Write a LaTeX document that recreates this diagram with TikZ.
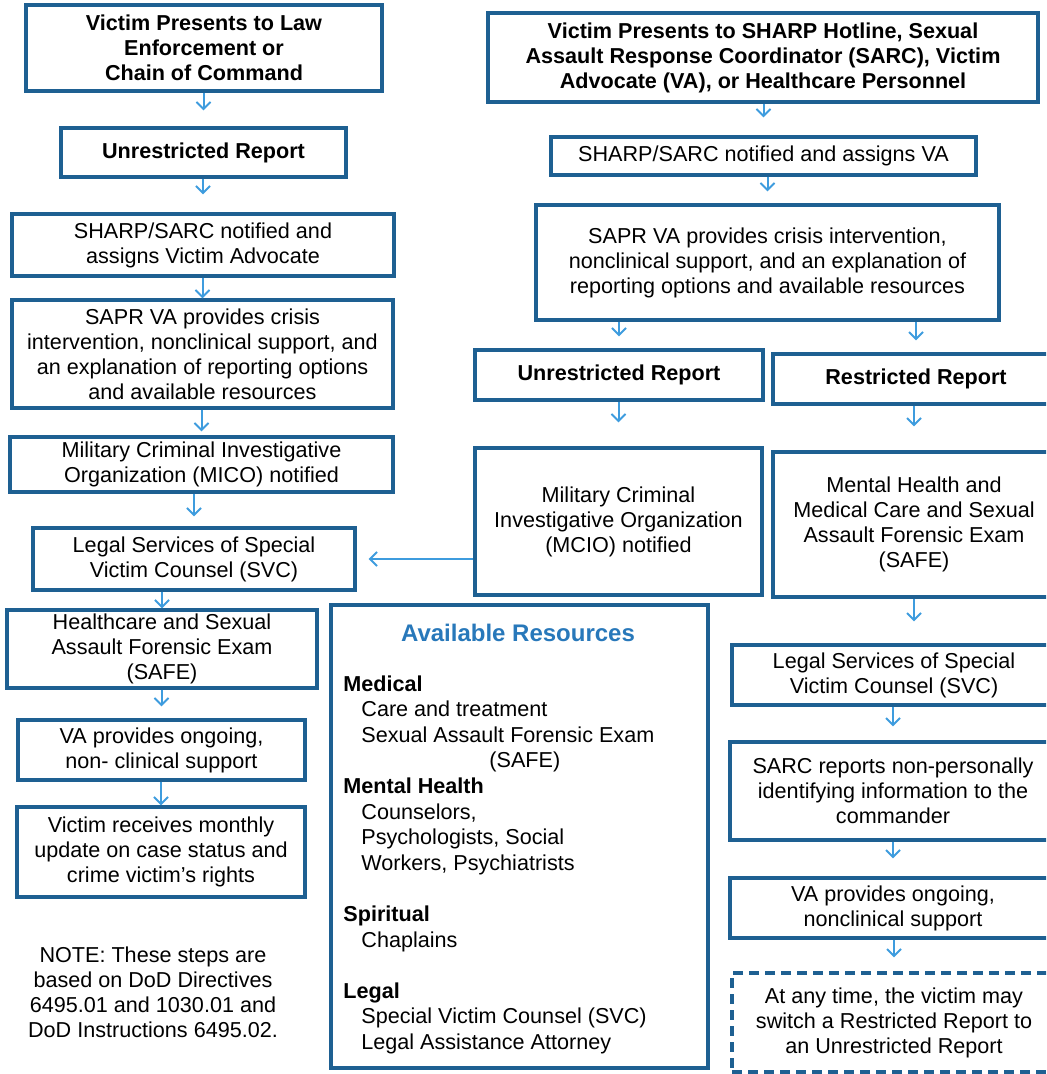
\documentclass[tikz,border=0pt]{standalone}
\usepackage{fontspec}
\setmainfont{Liberation Sans}
\usetikzlibrary{arrows.meta}
\definecolor{boxblue}{RGB}{30,96,146}
\definecolor{arrowblue}{RGB}{62,156,222}
\definecolor{titleblue}{RGB}{40,120,186}

\begin{document}
\begin{tikzpicture}[x=0.5pt, y=-0.5pt, >={Straight Barb[length=3.5pt,width=7pt]},
  box/.style={draw=boxblue, line width=1.6pt, align=center, inner sep=2pt,
    font=\fontsize{10.8}{12.5}\selectfont},
  bbox/.style={box, font=\fontsize{10.8}{12.5}\selectfont\bfseries},
  dim/.style 2 args={minimum width=#1*0.5pt, minimum height=#2*0.5pt},
  arr/.style={->, draw=arrowblue, line width=1pt}]
  \useasboundingbox (0,0) rectangle (1046,1074);
  \clip (0,0) rectangle (1046,1074);

  \node[bbox, dim={356}{86}] (l1) at (204,48) {Victim Presents to Law\\Enforcement or\\Chain of Command};
  \node[bbox, dim={285}{49}] (l2) at (203.5,152.5) {Unrestricted Report};
  \node[box, dim={382}{62}] (l3) at (203,245) {SHARP/SARC notified and\\assigns Victim Advocate};
  \node[box, dim={381}{108}] (l4) at (202.5,354) {SAPR VA provides crisis\\intervention, nonclinical support, and\\an explanation of reporting options\\and available resources};
  \node[box, dim={383}{55}] (l5) at (201.5,464.5) {Military Criminal Investigative\\Organization (MICO) notified};
  \node[box, dim={322}{62}] (l6) at (194,559) {Legal Services of Special\\Victim Counsel (SVC)};
  \node[box, dim={310}{78}] (l7) at (162,649) {Healthcare and Sexual\\Assault Forensic Exam\\(SAFE)};
  \node[box, dim={287}{60}] (l8) at (161.5,750) {VA provides ongoing,\\non- clinical support};
  \node[box, dim={288}{90}] (l9) at (161,852) {Victim receives monthly\\update on case status and\\crime victim's rights};
  \node[align=center, font=\fontsize{10.8}{12.5}\selectfont] (note) at (153,992) {NOTE: These steps are\\based on DoD Directives\\6495.01 and 1030.01 and\\DoD Instructions 6495.02.};

  \node[bbox, dim={550}{89}] (r1) at (763,57.5) {Victim Presents to SHARP Hotline, Sexual\\Assault Response Coordinator (SARC), Victim\\Advocate (VA), or Healthcare Personnel};
  \node[box, dim={425}{38}] (r2) at (763.5,156) {SHARP/SARC notified and assigns VA};
  \node[box, dim={463}{115}] (r3) at (767.5,262.5) {SAPR VA provides crisis intervention,\\nonclinical support, and an explanation of\\reporting options and available resources};
  \node[bbox, dim={288}{50}] (ru) at (619,375) {Unrestricted Report};
  \node[bbox, dim={286}{50}] (rr) at (916,379) {Restricted Report};
  \node[box, dim={287}{147}] (mcio) at (618.5,521.5) {Military Criminal\\Investigative Organization\\(MCIO) notified};
  \node[box, dim={282}{145}] (mh) at (914,524.5) {Mental Health and\\Medical Care and Sexual\\Assault Forensic Exam\\(SAFE)};
  \node[box, dim={324}{60}] (rl) at (894,675) {Legal Services of Special\\Victim Counsel (SVC)};
  \node[box, dim={326}{98}] (rs) at (893,791) {SARC reports non-personally\\identifying information to the\\commander};
  \node[box, dim={326}{60}] (rv) at (893,908) {VA provides ongoing,\\nonclinical support};
  \node[box, dashed, dash pattern=on 5pt off 3pt, dim={324}{99}] (rd) at (894,1022.5) {At any time, the victim may\\switch a Restricted Report to\\an Unrestricted Report};

  \node[box, dim={377}{463}] (res) at (519.5,836.5) {};
  \node[font=\fontsize{12}{14}\selectfont\bfseries, text=titleblue] (restitle) at (518,633) {Available Resources};
  \node[anchor=north west, align=left, inner sep=0pt, font=\fontsize{10.8}{12.8}\selectfont] (resitems) at (343,675) {\textbf{Medical}\\
    \hspace*{9pt}Care and treatment\\
    \hspace*{9pt}Sexual Assault Forensic Exam\\
    \hspace*{73pt}(SAFE)\\
    \textbf{Mental Health}\\
    \hspace*{9pt}Counselors,\\
    \hspace*{9pt}Psychologists, Social\\
    \hspace*{9pt}Workers, Psychiatrists\\[12.8pt]
    \textbf{Spiritual}\\
    \hspace*{9pt}Chaplains\\[12.8pt]
    \textbf{Legal}\\
    \hspace*{9pt}Special Victim Counsel (SVC)\\
    \hspace*{9pt}Legal Assistance Attorney};

  \draw[arr, shorten >=8pt] (l2.north |- l1.south) -- (l2.north);
  \draw[arr, shorten >=9pt] (l3.north |- l2.south) -- (l3.north);
  \draw[arr] (l4.north |- l3.south) -- (l4.north);
  \draw[arr, shorten >=2pt] (l5.north |- l4.south) -- (l5.north);
  \draw[arr, shorten >=5pt] (l6.north |- l5.south) -- (l6.north);
  \draw[arr] (l7.north |- l6.south) -- (l7.north);
  \draw[arr, shorten >=6pt] (l8.north |- l7.south) -- (l8.north);
  \draw[arr] (l9.north |- l8.south) -- (l9.north);

  \draw[arr, shorten >=9pt] (r2.north |- r1.south) -- (r2.north);
  \draw[arr, shorten >=6pt] (r3.north |- r2.south) -- (r3.north);
  \draw[arr, shorten >=6pt] (ru.north |- r3.south) -- (ru.north);
  \draw[arr, shorten >=6pt] (rr.north |- r3.south) -- (rr.north);
  \draw[arr, shorten >=12pt] (mcio.north |- ru.south) -- (mcio.north);
  \draw[arr, shorten >=12pt] (mh.north |- rr.south) -- (mh.north);
  \draw[arr, shorten >=11pt] (mh.south) -- (mh.south |- rl.north);
  \draw[arr, shorten >=7pt] (rs.north |- rl.south) -- (rs.north);
  \draw[arr, shorten >=9pt] (rv.north |- rs.south) -- (rv.north);
  \draw[arr, shorten >=7pt] (rd.north |- rv.south) -- (rd.north);
  \draw[arr, shorten >=6pt] (mcio.west |- l6.east) -- (l6.east);
\end{tikzpicture}
\end{document}
